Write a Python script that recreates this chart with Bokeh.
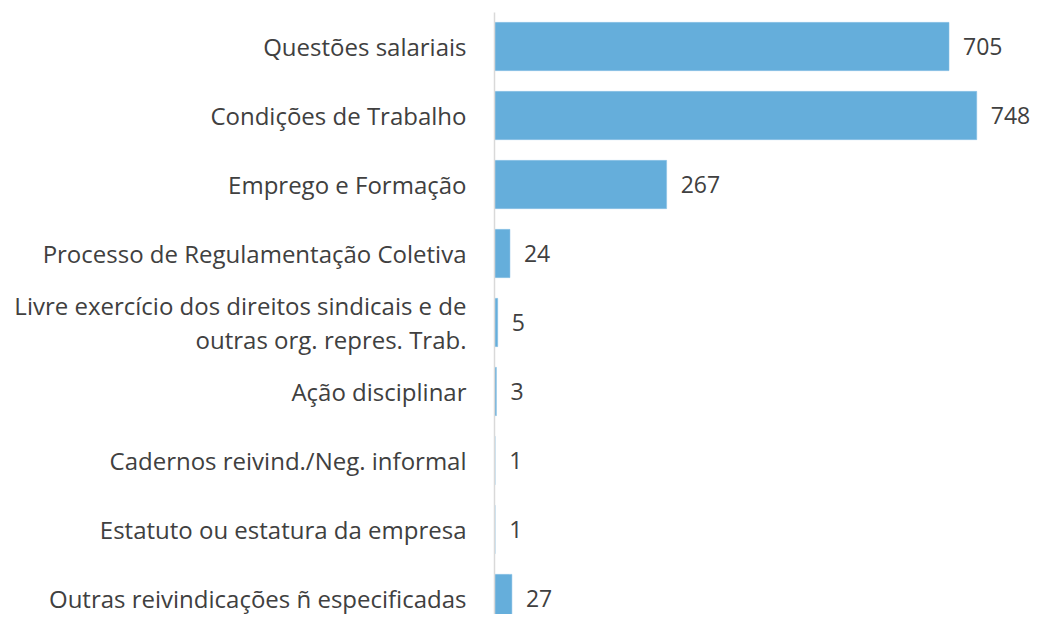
from bokeh.plotting import figure
from bokeh.models import ColumnDataSource, Range1d, FixedTicker
from bokeh.core.properties import value
from bokeh.embed import file_html
from bokeh.resources import INLINE

categories = [
    "Questões salariais",
    "Condições de Trabalho",
    "Emprego e Formação",
    "Processo de Regulamentação Coletiva",
    "Livre exercício dos direitos sindicais e de\noutras org. repres. Trab.",
    "Ação disciplinar",
    "Cadernos reivind./Neg. informal",
    "Estatuto ou estatura da empresa",
    "Outras reivindicações ñ especificadas",
]
values = [705, 748, 267, 24, 5, 3, 1, 1, 27]

pos = list(range(len(categories)))
src = ColumnDataSource(dict(y=pos, v=values, lab=[str(v) for v in values]))

FONT = "Open Sans"
TEXT = "#404040"

p = figure(width=1033, height=614, output_backend="svg", toolbar_location=None,
           x_range=Range1d(0, 836), y_range=Range1d(8.232, -0.493),
           min_border_left=494, min_border_right=0, min_border_top=12, min_border_bottom=0)
p.outline_line_color = None
p.grid.grid_line_color = None
p.xaxis.visible = False

p.hbar(y="y", right="v", left=0, height=0.7, source=src,
       fill_color="#65AEDB", line_color="#8CC3E6", line_width=0.5)
p.text(x="v", y="y", text="lab", source=src, x_offset=14,
       text_font=value(FONT), text_font_size="23px", text_color=TEXT,
       text_baseline="middle", text_align="left")

ya = p.yaxis[0]
ya.ticker = FixedTicker(ticks=pos)
ya.major_label_overrides = {i: c for i, c in enumerate(categories)}
ya.major_tick_line_color = None
ya.minor_tick_line_color = None
ya.axis_line_color = "#D9D9D9"
ya.axis_line_width = 1.5
ya.major_label_text_font = FONT
ya.major_label_text_font_size = "24px"
ya.major_label_text_color = TEXT
ya.major_label_text_line_height = 1.05
ya.major_label_standoff = 22
ya.major_label_text_align = "right"

open("out.html", "w").write(file_html(p, INLINE))
